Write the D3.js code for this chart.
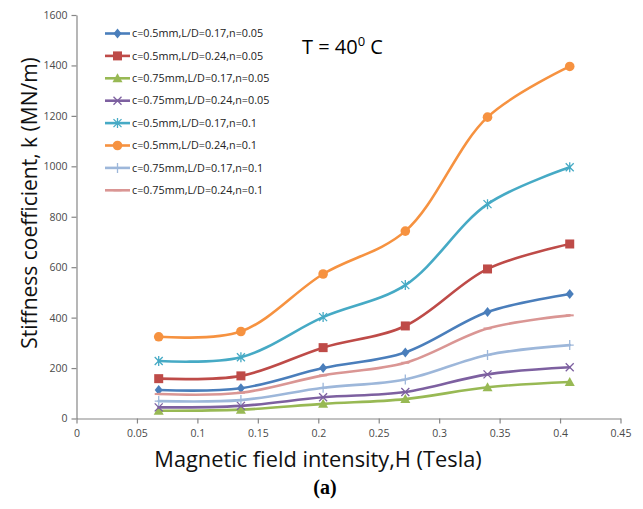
<!DOCTYPE html>
<html>
<head>
<meta charset="utf-8">
<script src="https://cdn.jsdelivr.net/npm/d3@7"></script>
<style>
  html, body { margin: 0; padding: 0; background: #fff; }
  svg { display: block; }
</style>
</head>
<body>
<svg id="chart" width="643" height="509"></svg>
<script>
// ---- data ----
const xValues = [0.068, 0.136, 0.204, 0.272, 0.34, 0.408];
const seriesNames = [
  "c=0.5mm,L/D=0.17,n=0.05",
  "c=0.5mm,L/D=0.24,n=0.05",
  "c=0.75mm,L/D=0.17,n=0.05",
  "c=0.75mm,L/D=0.24,n=0.05",
  "c=0.5mm,L/D=0.17,n=0.1",
  "c=0.5mm,L/D=0.24,n=0.1",
  "c=0.75mm,L/D=0.17,n=0.1",
  "c=0.75mm,L/D=0.24,n=0.1"
];
const s1 = [113, 120, 200, 262, 422, 494];
const s2 = [158, 169, 281, 367, 593, 692];
const s3 = [31, 35, 58, 77, 124, 145];
const s4 = [44, 50, 84, 105, 175, 203];
const s5 = [228, 243, 402, 529, 850, 996];
const s6 = [324, 345, 573, 743, 1195, 1396];
const s7 = [69, 73, 122, 155, 252, 291];
const s8 = [97, 102, 171, 221, 357, 409];
const seriesValues = [s1, s2, s3, s4, s5, s6, s7, s8];
const seriesColors = ["#4A7EBB", "#BE4B48", "#98B954", "#7D60A0", "#46AAC5", "#F69240", "#9DB7DA", "#DA9694"];
const seriesMarkers = ["diamond", "square", "triangle", "x", "star", "circle", "plus", "dash"];
const xTicks = [0, 0.05, 0.1, 0.15, 0.2, 0.25, 0.3, 0.35, 0.4, 0.45];
const yTicks = [0, 200, 400, 600, 800, 1000, 1200, 1400, 1600];
const xTitle = "Magnetic field intensity,H (Tesla)";
const yTitle = "Stiffness coefficient, k (MN/m)";
const caption = "(a)";

// ---- drawing ----
const svg = d3.select("#chart");
const x = d3.scaleLinear().domain([0, 0.45]).range([76.5, 620.5]);
const y = d3.scaleLinear().domain([0, 1600]).range([418.5, 15]);
const axisColor = "#868686";
const tickFont = "'Open Sans', 'Liberation Sans', sans-serif";

// axes
const xAxis = svg.append("g").attr("transform", `translate(0,${y(0)})`)
  .call(d3.axisBottom(x).tickValues(xTicks).tickSize(5).tickSizeOuter(0)
    .tickFormat(d => String(+d.toFixed(2))));
const yAxis = svg.append("g").attr("transform", `translate(${x(0)},0)`)
  .call(d3.axisLeft(y).tickValues(yTicks).tickSize(5).tickSizeOuter(0)
    .tickFormat(d => String(d)));
[xAxis, yAxis].forEach(a => {
  a.select(".domain").attr("stroke", axisColor).attr("stroke-width", 1.2);
  a.selectAll(".tick line").attr("stroke", axisColor).attr("stroke-width", 1.2);
  a.selectAll(".tick text").attr("fill", "#4a4a4a").attr("font-family", tickFont).attr("font-size", 10.5);
});
xAxis.selectAll(".tick text").attr("dy", "0.71em").attr("y", 11);
yAxis.selectAll(".tick text").attr("x", -9);

// lines
const line = d3.line().x(d => x(d[0])).y(d => y(d[1])).curve(d3.curveCatmullRom.alpha(0.5));

function drawMarker(g, type, cx, cy, color) {
  const s = 4;
  switch (type) {
    case "diamond":
      g.append("path").attr("d", `M${cx},${cy - s - 1}L${cx + s},${cy}L${cx},${cy + s + 1}L${cx - s},${cy}Z`).attr("fill", color);
      break;
    case "square":
      g.append("rect").attr("x", cx - s - 0.5).attr("y", cy - s - 0.5).attr("width", 2 * s + 1).attr("height", 2 * s + 1).attr("fill", color);
      break;
    case "triangle":
      g.append("path").attr("d", `M${cx},${cy - s - 1}L${cx + s + 1},${cy + s}L${cx - s - 1},${cy + s}Z`).attr("fill", color);
      break;
    case "circle":
      g.append("circle").attr("cx", cx).attr("cy", cy).attr("r", s + 0.8).attr("fill", color);
      break;
    case "x":
      g.append("path").attr("d", `M${cx - s},${cy - s}L${cx + s},${cy + s}M${cx - s},${cy + s}L${cx + s},${cy - s}`).attr("stroke", color).attr("stroke-width", 1.3);
      break;
    case "star":
      g.append("path").attr("d", `M${cx - s},${cy - s}L${cx + s},${cy + s}M${cx - s},${cy + s}L${cx + s},${cy - s}M${cx},${cy - s - 1}L${cx},${cy + s + 1}`).attr("stroke", color).attr("stroke-width", 1.3);
      break;
    case "plus":
      g.append("path").attr("d", `M${cx - s},${cy}L${cx + s},${cy}M${cx},${cy - s - 1}L${cx},${cy + s + 1}`).attr("stroke", color).attr("stroke-width", 1.3);
      break;
    case "dash":
      g.append("path").attr("d", `M${cx - s},${cy}L${cx + s},${cy}`).attr("stroke", color).attr("stroke-width", 2);
      break;
  }
}

seriesValues.forEach((vals, i) => {
  const pts = xValues.map((xv, j) => [xv, vals[j]]);
  const g = svg.append("g");
  g.append("path").attr("d", line(pts)).attr("fill", "none")
    .attr("stroke", seriesColors[i]).attr("stroke-width", 2.6).attr("stroke-linecap", "round");
  pts.forEach(p => drawMarker(g, seriesMarkers[i], x(p[0]), y(p[1]), seriesColors[i]));
});

// legend
const legend = svg.append("g");
seriesNames.forEach((name, i) => {
  const ly = 33.5 + i * 22.4;
  const lg = legend.append("g");
  lg.append("line").attr("x1", 105).attr("x2", 130).attr("y1", ly).attr("y2", ly)
    .attr("stroke", seriesColors[i]).attr("stroke-width", 2.6);
  drawMarker(lg, seriesMarkers[i], 117.5, ly, seriesColors[i]);
  lg.append("text").attr("x", 132).attr("y", ly).attr("dy", "0.35em")
    .attr("font-family", tickFont).attr("font-size", 10.8).attr("fill", "#222").text(name);
});

// annotation T = 40^0 C
const ann = svg.append("text").attr("x", 302).attr("y", 54)
  .attr("font-family", "'Open Sans', 'Liberation Sans', sans-serif").attr("font-size", 20).attr("fill", "#000");
ann.append("tspan").text("T = 40");
ann.append("tspan").attr("dy", -8).attr("font-size", 13).text("0");
ann.append("tspan").attr("dy", 8).text(" C");

// axis titles
svg.append("text").attr("x", (152 + 484) / 2).attr("y", 467).attr("text-anchor", "middle")
  .attr("font-family", "'Open Sans', 'Liberation Sans', sans-serif").attr("font-size", 21.8).attr("fill", "#111").text(xTitle);
svg.append("text").attr("transform", `translate(37,203) rotate(-90)`).attr("text-anchor", "middle")
  .attr("font-family", "'Open Sans', 'Liberation Sans', sans-serif").attr("font-size", 21).attr("fill", "#111").text(yTitle);

// caption
svg.append("text").attr("x", 325).attr("y", 494).attr("text-anchor", "middle")
  .attr("font-family", "'Liberation Serif', 'DejaVu Serif', serif").attr("font-weight", "bold").attr("font-size", 20).attr("fill", "#000").text(caption);
</script>
</body>
</html>
